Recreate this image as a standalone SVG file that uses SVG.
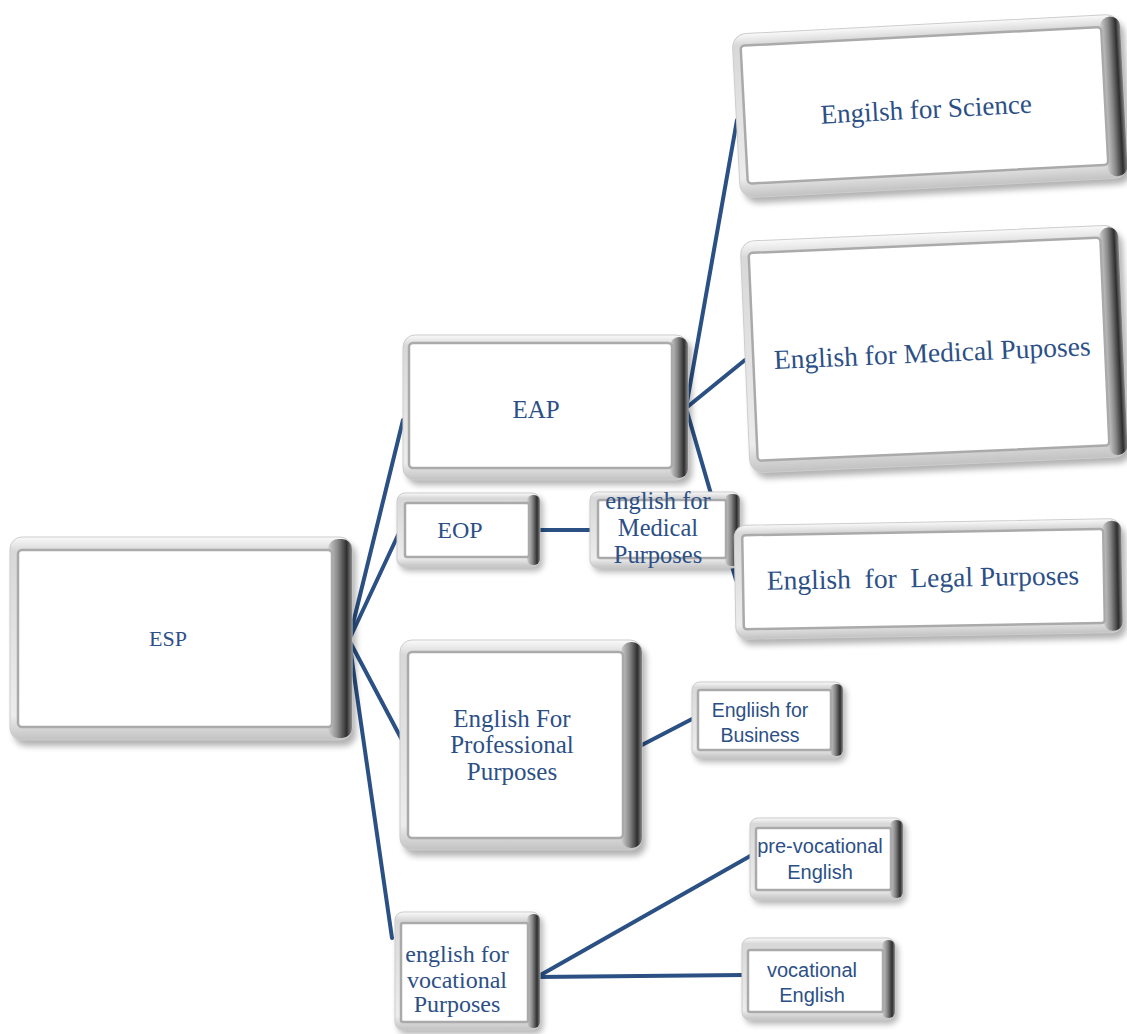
<svg xmlns="http://www.w3.org/2000/svg" width="1127" height="1034" viewBox="0 0 1127 1034">
  <defs>
    <filter id="soft" x="-10%" y="-10%" width="120%" height="130%">
      <feGaussianBlur stdDeviation="3"/>
    </filter>
    <linearGradient id="rimGrad" x1="0" y1="0" x2="0" y2="1">
      <stop offset="0" stop-color="#fafafa"/>
      <stop offset="0.07" stop-color="#d8d8d8"/>
      <stop offset="0.88" stop-color="#ececec"/>
      <stop offset="1" stop-color="#c2c2c2"/>
    </linearGradient>
    <linearGradient id="bandGrad" x1="0" y1="0" x2="1" y2="0">
      <stop offset="0" stop-color="#d0d0d0"/>
      <stop offset="0.4" stop-color="#8a8a8a"/>
      <stop offset="0.78" stop-color="#2e2e2e"/>
      <stop offset="1" stop-color="#8a8a8a"/>
    </linearGradient>
  </defs>
  <style>
    .sh { fill: #000; opacity: 0.3; filter: url(#soft); }
    .rim { fill: url(#rimGrad); stroke: #cdcdcd; stroke-width: 1; }
    .band { fill: url(#bandGrad); }
    .face { fill: #fff; stroke: #aaaaaa; stroke-width: 2.5; }
    .link { stroke: #2b5083; stroke-width: 4; fill: none; stroke-linecap: round; }
    .ser { font-family: "Liberation Serif", "Times New Roman", serif; fill: #2c5086; text-anchor: middle; }
    .san { font-family: "Liberation Sans", Arial, sans-serif; fill: #2c5086; text-anchor: middle; }
  </style>

  <!-- connectors sit underneath the boxes -->
  <g id="connectors">
    <line class="link" x1="349" y1="640" x2="403" y2="420"/>
    <line class="link" x1="349" y1="640" x2="399" y2="533"/>
    <line class="link" x1="349" y1="640" x2="402" y2="740"/>
    <line class="link" x1="349" y1="640" x2="392" y2="938"/>
    <line class="link" x1="686" y1="408" x2="737" y2="120"/>
    <line class="link" x1="686" y1="408" x2="745" y2="360"/>
    <line class="link" x1="686" y1="408" x2="736" y2="580"/>
    <line class="link" x1="538" y1="530" x2="593" y2="530"/>
    <line class="link" x1="640" y1="746" x2="694" y2="718"/>
    <line class="link" x1="537" y1="977" x2="752" y2="855"/>
    <line class="link" x1="537" y1="977" x2="743" y2="975"/>
  </g>

  <g id="esp">
    <rect class="sh" x="14" y="543" width="342" height="203" rx="12"/>
    <rect class="rim" x="10" y="537" width="342" height="203" rx="12"/>
    <rect class="band" x="328" y="539" width="24" height="199" rx="10"/>
    <rect class="face" x="18" y="550" width="314" height="177" rx="4"/>
    <text class="ser" x="168" y="646" font-size="22">ESP</text>
  </g>

  <g id="eap">
    <rect class="sh" x="407" y="340" width="285" height="145" rx="12"/>
    <rect class="rim" x="403" y="335" width="285" height="145" rx="12"/>
    <rect class="band" x="670" y="337" width="18" height="141" rx="9"/>
    <rect class="face" x="409" y="343" width="263" height="125" rx="4"/>
    <text class="ser" x="536" y="418" font-size="25">EAP</text>
  </g>

  <g id="eop">
    <rect class="sh" x="400" y="497" width="143" height="74" rx="8"/>
    <rect class="rim" x="397" y="493" width="143" height="74" rx="8"/>
    <rect class="band" x="527" y="495" width="13" height="70" rx="6"/>
    <rect class="face" x="405" y="503" width="124" height="54" rx="2"/>
    <text class="ser" x="460" y="538" font-size="24">EOP</text>
  </g>

  <g id="medical-small">
    <rect class="sh" x="593" y="496" width="150" height="76" rx="8"/>
    <rect class="rim" x="590" y="492" width="150" height="76" rx="8"/>
    <rect class="band" x="725" y="494" width="15" height="72" rx="6"/>
    <rect class="face" x="598" y="500" width="128" height="58" rx="2"/>
    <text class="ser" x="658" y="509" font-size="24.5">english for</text>
    <text class="ser" x="658" y="536" font-size="24.5">Medical</text>
    <text class="ser" x="658" y="563" font-size="24.5">Purposes</text>
  </g>

  <g id="science" transform="rotate(-3 930 106)">
    <rect class="sh" x="740" y="30" width="388" height="164" rx="14"/>
    <rect class="rim" x="736" y="24" width="388" height="164" rx="14"/>
    <rect class="band" x="1104" y="26" width="20" height="160" rx="10"/>
    <rect class="face" x="744" y="36" width="361" height="138" rx="4"/>
    <text class="ser" x="926" y="118" font-size="27">Engilsh for Science</text>
  </g>

  <g id="medical" transform="rotate(-2.5 934 349)">
    <rect class="sh" x="749" y="239" width="378" height="232" rx="14"/>
    <rect class="rim" x="745" y="233" width="378" height="232" rx="14"/>
    <rect class="band" x="1104" y="235" width="19" height="228" rx="10"/>
    <rect class="face" x="753" y="245" width="352" height="208" rx="4"/>
    <text class="ser" x="932" y="362" font-size="27.5">English for Medical Puposes</text>
  </g>

  <g id="legal" transform="rotate(-1 928 579)">
    <rect class="sh" x="739" y="528" width="387" height="114" rx="12"/>
    <rect class="rim" x="735" y="522" width="387" height="114" rx="12"/>
    <rect class="band" x="1103" y="524" width="19" height="110" rx="9"/>
    <rect class="face" x="743" y="532" width="361" height="94" rx="3"/>
    <text class="ser" x="923" y="587" font-size="27.5" xml:space="preserve">English  for  Legal Purposes</text>
  </g>

  <g id="epp">
    <rect class="sh" x="404" y="646" width="242" height="210" rx="12"/>
    <rect class="rim" x="400" y="640" width="242" height="210" rx="12"/>
    <rect class="band" x="621" y="642" width="21" height="206" rx="10"/>
    <rect class="face" x="408" y="652" width="215" height="186" rx="4"/>
    <text class="ser" x="512" y="727" font-size="25">English For</text>
    <text class="ser" x="512" y="753" font-size="25">Professional</text>
    <text class="ser" x="512" y="780" font-size="25">Purposes</text>
  </g>

  <g id="business">
    <rect class="sh" x="695" y="686" width="151" height="76" rx="8"/>
    <rect class="rim" x="692" y="682" width="151" height="76" rx="8"/>
    <rect class="band" x="830" y="684" width="13" height="72" rx="6"/>
    <rect class="face" x="698" y="690" width="133" height="60" rx="2"/>
    <text class="san" x="760" y="717" font-size="19.5">Engliish for</text>
    <text class="san" x="760" y="742" font-size="19.5">Business</text>
  </g>

  <g id="pre-vocational">
    <rect class="sh" x="753" y="822" width="153" height="82" rx="8"/>
    <rect class="rim" x="750" y="818" width="153" height="82" rx="8"/>
    <rect class="band" x="890" y="820" width="13" height="78" rx="6"/>
    <rect class="face" x="756" y="828" width="135" height="62" rx="2"/>
    <text class="san" x="820" y="853" font-size="20">pre-vocational</text>
    <text class="san" x="820" y="879" font-size="20">English</text>
  </g>

  <g id="vocational">
    <rect class="sh" x="745" y="942" width="153" height="82" rx="8"/>
    <rect class="rim" x="742" y="938" width="153" height="82" rx="8"/>
    <rect class="band" x="882" y="940" width="13" height="78" rx="6"/>
    <rect class="face" x="748" y="950" width="135" height="62" rx="2"/>
    <text class="san" x="812" y="977" font-size="20">vocational</text>
    <text class="san" x="812" y="1002" font-size="20">English</text>
  </g>

  <g id="evp">
    <rect class="sh" x="398" y="916" width="145" height="118" rx="8"/>
    <rect class="rim" x="395" y="912" width="145" height="118" rx="8"/>
    <rect class="band" x="527" y="914" width="13" height="114" rx="6"/>
    <rect class="face" x="401" y="923" width="127" height="99" rx="2"/>
    <text class="ser" x="457" y="962" font-size="24">english for</text>
    <text class="ser" x="457" y="988" font-size="24">vocational</text>
    <text class="ser" x="457" y="1012" font-size="24">Purposes</text>
  </g>
</svg>
